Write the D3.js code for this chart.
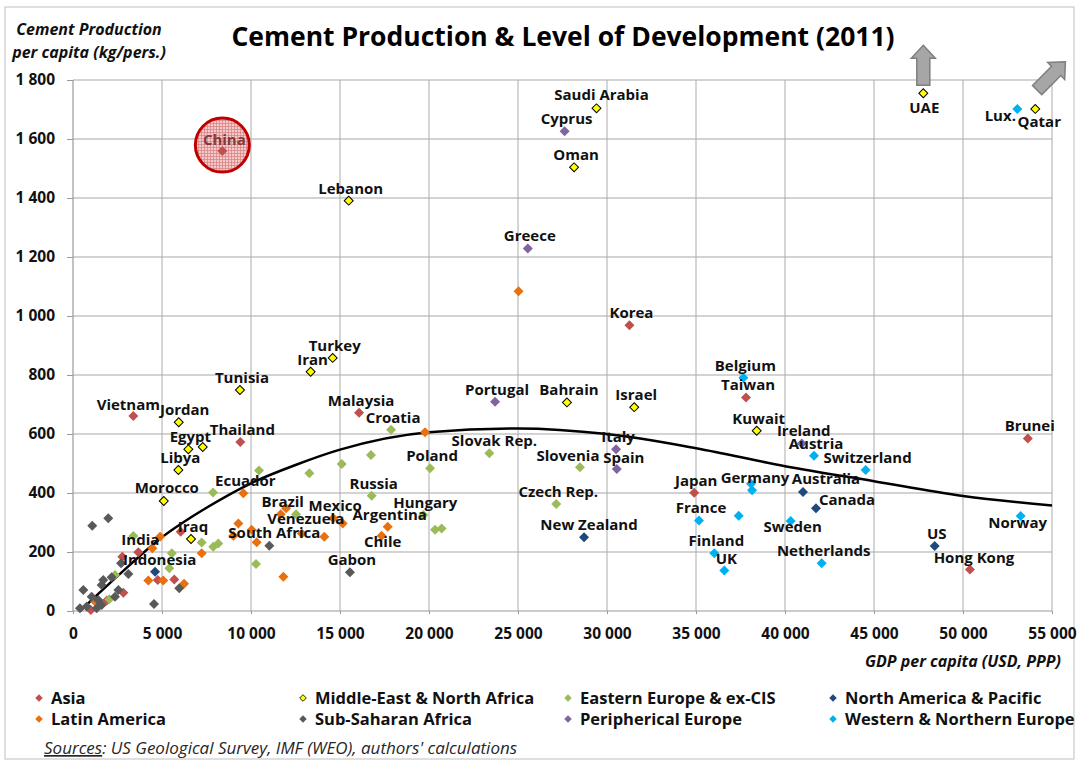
<!DOCTYPE html>
<html>
<head>
<meta charset="utf-8">
<title>Cement Production &amp; Level of Development (2011)</title>
<script src="https://cdn.jsdelivr.net/npm/d3@7"></script>
<style>
  body { margin: 0; background: #fff; }
  svg { font-family: "Open Sans", sans-serif; }
  .label { font-size: 15px; font-weight: bold; fill: #111; text-anchor: middle; }
  .tick text { font-size: 15.5px; font-weight: bold; fill: #111; font-family: "Open Sans", sans-serif; }
  .axisTitle { font-size: 16px; font-weight: bold; font-style: italic; fill: #111; }
  .legend text { font-size: 16.5px; font-weight: bold; fill: #111; }
</style>
</head>
<body>
<svg id="chart" width="1079" height="762"></svg>
<script>
// categories (legend order)
const groups = ["Asia", "Middle-East & North Africa", "Eastern Europe & ex-CIS", "North America & Pacific",
  "Latin America", "Sub-Saharan Africa", "Peripherical Europe", "Western & Northern Europe"];
const groupColours = ["#C0504D", "#FFFF00", "#9BBB59", "#1F497D", "#E8700F", "#595959", "#8064A2", "#00B0F0"];

// [country, GDP per capita (USD, PPP), cement production per capita (kg)]
const asia = [
  ["China", 8390, 1559], ["Vietnam", 3390, 661], ["Thailand", 9400, 573], ["Malaysia", 16070, 672],
  ["Korea", 31260, 969], ["Taiwan", 37810, 724], ["Japan", 34900, 401], ["Brunei", 53640, 585],
  ["Hong Kong", 50390, 141], ["India", 3670, 199], ["Indonesia", 4760, 105],
  ["", 2770, 184], ["", 5690, 107], ["", 6050, 269], ["", 1900, 36], ["", 2830, 62], ["", 1000, 3]
];
const middleEast = [
  ["Saudi Arabia", 29410, 1704], ["Oman", 28150, 1504], ["Lebanon", 15490, 1391], ["UAE", 47770, 1755],
  ["Qatar", 54060, 1702], ["Turkey", 14590, 858], ["Iran", 13350, 811], ["Tunisia", 9380, 749],
  ["Jordan", 5940, 640], ["Egypt", 6480, 548], ["", 7290, 556], ["Libya", 5920, 478],
  ["Morocco", 5100, 373], ["Iraq", 6630, 244], ["Bahrain", 27750, 707], ["Israel", 31530, 691],
  ["Kuwait", 38410, 611]
];
const easternEurope = [
  ["Croatia", 17870, 614], ["Poland", 20060, 484], ["Russia", 16780, 391], ["Hungary", 19680, 325],
  ["", 20340, 275], ["", 20710, 280], ["Slovak Rep.", 23390, 535], ["Slovenia", 28480, 487],
  ["Czech Rep.", 27150, 363], ["", 7870, 402], ["", 10450, 476], ["", 13280, 467], ["", 15100, 498],
  ["", 16740, 529], ["", 12530, 328], ["", 10280, 159], ["", 7230, 232], ["", 7880, 218],
  ["", 8160, 229], ["", 5550, 196], ["", 5410, 145], ["", 3390, 254], ["", 2360, 122], ["", 2040, 40]
];
const northAmerica = [
  ["", 4610, 133], ["New Zealand", 28710, 250], ["Australia", 41010, 403], ["Canada", 41740, 348],
  ["US", 48410, 220]
];
const latinAmerica = [
  ["", 25030, 1084], ["Ecuador", 9570, 399], ["", 19780, 606], ["Brazil", 11670, 328], ["", 11970, 348],
  ["Mexico", 14620, 314], ["", 15150, 297], ["Venezuela", 12850, 263], ["Argentina", 17680, 286],
  ["Chile", 17340, 255], ["", 14120, 252], ["", 10320, 233], ["", 9290, 297], ["", 9010, 255],
  ["", 7230, 196], ["", 11820, 116], ["", 6240, 92], ["", 10040, 275], ["", 4890, 252],
  ["", 4230, 103], ["", 5070, 103], ["", 4460, 213], ["", 1240, 32]
];
const subSaharan = [
  ["Gabon", 15560, 131], ["South Africa", 11030, 221], ["", 5970, 77], ["", 4550, 24], ["", 1080, 289],
  ["", 1980, 314], ["", 2700, 162], ["", 3110, 125], ["", 1700, 105], ["", 2170, 114], ["", 1610, 88],
  ["", 580, 71], ["", 1050, 48], ["", 1420, 37], ["", 2360, 48], ["", 2550, 71], ["", 390, 9],
  ["", 770, 15], ["", 1330, 9], ["", 1610, 20]
];
const peripheral = [
  ["Cyprus", 27620, 1626], ["Greece", 25550, 1229], ["Portugal", 23710, 709], ["Italy", 30510, 548],
  ["Spain", 30550, 481], ["Ireland", 40940, 568]
];
const westernEurope = [
  ["Lux.", 53050, 1702], ["Belgium", 37660, 791], ["Austria", 41630, 526], ["Switzerland", 44530, 478],
  ["Germany", 38090, 431], ["", 38150, 409], ["France", 35170, 307], ["", 37400, 323],
  ["Sweden", 40320, 305], ["Finland", 36030, 196], ["UK", 36590, 137], ["Netherlands", 42060, 162],
  ["Norway", 53240, 322]
];
const series = [asia, middleEast, easternEurope, northAmerica, latinAmerica, subSaharan, peripheral, westernEurope];

// polynomial trend line
const trend = [[400, 0], [2500, 118], [5000, 250], [7500, 350], [10000, 433], [12500, 495], [15000, 547],
  [20000, 606], [25000, 619], [30000, 600], [35000, 552], [40000, 491], [45000, 440], [50000, 390], [55000, 358]];

// axis ticks
const xTicks = [0, 5000, 10000, 15000, 20000, 25000, 30000, 35000, 40000, 45000, 50000, 55000];
const yTicks = [0, 200, 400, 600, 800, 1000, 1200, 1400, 1600, 1800];

// label placement (pixel shift of label from its marker), default [2, -7]
const labelShift = {
  "China": [2, -6], "Vietnam": [-5, -6], "Indonesia": [2, -15], "Jordan": [6, -7], "UAE": [1, 20],
  "Qatar": [4, 18], "Slovenia": [-12, -6], "Slovak Rep.": [5, -7], "Venezuela": [4, -9], "Chile": [1, 11],
  "South Africa": [5, -8], "Spain": [7, -6], "Lux.": [-17, 12], "Germany": [4, -1], "Sweden": [2, 11],
  "Norway": [-3, 12], "Australia": [23, -8], "Canada": [31, -3], "New Zealand": [5, -7],
  "Morocco": [3, -8], "Saudi Arabia": [5, -8], "Hong Kong": [4, -6]
};

const svg = d3.select("#chart");
const margin = { top: 80, right: 1052, bottom: 611, left: 73 };
const x = d3.scaleLinear().domain([0, 55000]).range([margin.left, margin.right]);
const y = d3.scaleLinear().domain([0, 1800]).range([margin.bottom, margin.top]);
const fmt = v => d3.format(",")(v).replace(/,/g, " ");

// outer frame
svg.append("rect").attr("x", 5).attr("y", 7).attr("width", 1069).attr("height", 752)
  .attr("fill", "none").attr("stroke", "#BFBFBF");

// China pattern
const defs = svg.append("defs");
const pat = defs.append("pattern").attr("id", "mesh").attr("patternUnits", "userSpaceOnUse")
  .attr("width", 3).attr("height", 3);
pat.append("rect").attr("width", 3).attr("height", 3).attr("fill", "#F3C9C9");
pat.append("path").attr("d", "M0,0.5H3M0.5,0V3").attr("stroke", "#D98080").attr("stroke-width", 0.7);

// gridlines
svg.append("g").selectAll("line").data(yTicks.slice(1)).join("line")
  .attr("x1", margin.left).attr("x2", margin.right)
  .attr("y1", d => y(d)).attr("y2", d => y(d))
  .attr("stroke", "#C4C4C4").attr("stroke-width", 1.5);
svg.append("g").selectAll("line").data(xTicks.slice(1)).join("line")
  .attr("x1", d => x(d)).attr("x2", d => x(d))
  .attr("y1", margin.top).attr("y2", margin.bottom)
  .attr("stroke", "#ABABAB").attr("stroke-width", 1);

// axes
const yAxis = svg.append("g").attr("transform", "translate(" + margin.left + ",0)")
  .call(d3.axisLeft(y).tickValues(yTicks).tickFormat(fmt).tickSize(6).tickPadding(12));
const xAxis = svg.append("g").attr("transform", "translate(0," + margin.bottom + ")")
  .call(d3.axisBottom(x).tickValues(xTicks).tickFormat(fmt).tickSize(3));
[yAxis, xAxis].forEach(a => {
  a.select(".domain").attr("stroke", "#9A9A9A").attr("stroke-width", 1.2);
  a.selectAll(".tick line").attr("stroke", "#9A9A9A");
});
xAxis.selectAll(".tick text").attr("dy", null).attr("y", 28);
yAxis.select(".domain").attr("d", "M0," + margin.top + "V" + margin.bottom);
xAxis.select(".domain").attr("d", "M" + margin.left + ",0H" + margin.right);

// trend line
svg.append("path").datum(trend)
  .attr("d", d3.line().x(d => x(d[0])).y(d => y(d[1])).curve(d3.curveMonotoneX))
  .attr("fill", "none").attr("stroke", "#000").attr("stroke-width", 2.5);

// China highlight circle
svg.append("circle").attr("cx", x(asia[0][1])).attr("cy", y(asia[0][2]) - 6).attr("r", 27)
  .attr("fill", "url(#mesh)").attr("stroke", "#C00000").attr("stroke-width", 3);

// off-scale arrows (UAE, Qatar)
const arrowPath = "M0,-20L12,-7L6.5,-7L6.5,20L-6.5,20L-6.5,-7L-12,-7Z";
const uae = middleEast[3], qatar = middleEast[4];
svg.append("path").attr("d", arrowPath)
  .attr("transform", "translate(" + x(uae[1]) + "," + (y(uae[2]) - 28) + ")")
  .attr("fill", "#A6A6A6").attr("stroke", "#7F7F7F").attr("stroke-width", 1.5);
svg.append("path").attr("d", arrowPath)
  .attr("transform", "translate(" + (x(qatar[1]) + 16) + "," + (y(qatar[2]) - 33) + ") rotate(45)")
  .attr("fill", "#A6A6A6").attr("stroke", "#7F7F7F").attr("stroke-width", 1.5);

// markers
const diamond = d3.symbol(d3.symbolSquare, 50)();
const diamondSmall = d3.symbol(d3.symbolSquare, 40)();
series.forEach((s, i) => {
  svg.append("g").selectAll("path").data(s).join("path")
    .attr("d", i === 1 ? diamondSmall : diamond)
    .attr("transform", d => "translate(" + x(d[1]) + "," + y(d[2]) + ") rotate(45)")
    .attr("fill", groupColours[i])
    .attr("stroke", i === 1 ? "#000" : "none")
    .attr("stroke-width", 1);
});

// country labels
const labelled = series.flat().filter(d => d[0] !== "");
svg.append("g").selectAll("text").data(labelled).join("text")
  .attr("class", "label")
  .attr("x", d => x(d[1]) + (labelShift[d[0]] || [2, -7])[0])
  .attr("y", d => y(d[2]) + (labelShift[d[0]] || [2, -7])[1])
  .style("fill", d => d[0] === "China" ? "#7A2E2E" : null)
  .style("opacity", d => d[0] === "China" ? 0.9 : null)
  .text(d => d[0]);

// titles
svg.append("text").attr("x", 563).attr("y", 46).attr("text-anchor", "middle")
  .style("font-size", "26.5px").style("font-weight", "bold").style("fill", "#000")
  .text("Cement Production & Level of Development (2011)");
svg.append("text").attr("class", "axisTitle").attr("x", 89).attr("y", 35).attr("text-anchor", "middle")
  .text("Cement Production");
svg.append("text").attr("class", "axisTitle").attr("x", 89).attr("y", 58).attr("text-anchor", "middle")
  .text("per capita (kg/pers.)");
svg.append("text").attr("class", "axisTitle").attr("x", 1061).attr("y", 667).attr("text-anchor", "end")
  .text("GDP per capita (USD, PPP)");

// legend
const legendX = [39, 303, 568, 833];
const legendY = [698, 719];
const legend = svg.append("g").attr("class", "legend");
groups.forEach((g, i) => {
  const lx = legendX[i % 4], ly = legendY[Math.floor(i / 4)];
  legend.append("path").attr("d", d3.symbol(d3.symbolSquare, i === 1 ? 22 : 28)())
    .attr("transform", "translate(" + lx + "," + ly + ") rotate(45)")
    .attr("fill", groupColours[i]).attr("stroke", i === 1 ? "#000" : "none").attr("stroke-width", 0.8);
  legend.append("text").attr("x", lx + 12).attr("y", ly + 6).text(g);
});

// sources
const src = svg.append("text").attr("x", 44).attr("y", 754)
  .style("font-size", "17px").style("font-style", "italic").style("fill", "#262626");
src.append("tspan").style("text-decoration", "underline").text("Sources");
src.append("tspan").text(": US Geological Survey, IMF (WEO), authors' calculations");
</script>
</body>
</html>
